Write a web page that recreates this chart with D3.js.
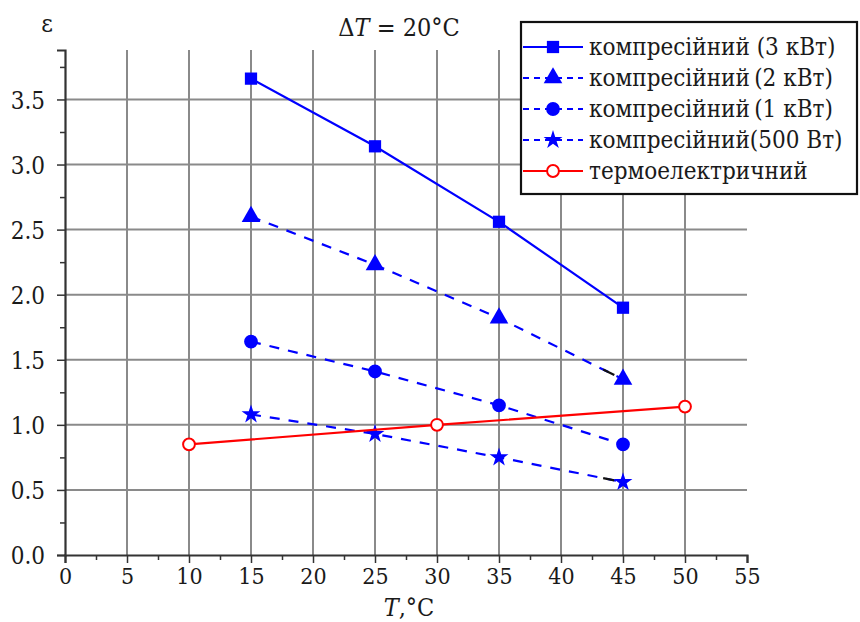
<!DOCTYPE html>
<html>
<head>
<meta charset="utf-8">
<script src="https://cdn.jsdelivr.net/npm/d3@7"></script>
<style>
  body { margin: 0; background: #fff; }
</style>
</head>
<body>
<div id="chart"></div>
<script>
// data
var temps = [15, 25, 35, 45];
var comp3kW = [3.66, 3.14, 2.56, 1.90];
var comp2kW = [2.60, 2.23, 1.82, 1.35];
var comp1kW = [1.64, 1.41, 1.15, 0.85];
var comp500W = [1.08, 0.93, 0.75, 0.56];
var thermoTemps = [10, 30, 50];
var thermo = [0.85, 1.00, 1.14];

var xTicks = [0, 5, 10, 15, 20, 25, 30, 35, 40, 45, 50, 55];
var yTicks = [0, 0.5, 1, 1.5, 2, 2.5, 3, 3.5];

var legendNames = [
    "компресійний (3 кВт)",
    "компресійний\u2009(2 кВт)",
    "компресійний\u2009(1 кВт)",
    "компресійний(500 Вт)",
    "термоелектричний"
];

// only DejaVu Serif resolves to a serif face here
var serif = '"DejaVu Serif Condensed", "DejaVu Serif", serif';
var W = 860, H = 622;
var svg = d3.select("#chart").append("svg").attr("width", W).attr("height", H)
    .attr("font-family", serif);

var x = d3.scaleLinear().domain([0, 55]).range([65, 747]);
var y = d3.scaleLinear().domain([0, 3.88]).range([555, 50]);

var grid = "#8a8a8a";

// grid lines
svg.append("g").selectAll("line")
    .data(xTicks.filter(function(d) { return d > 0 && d < 55; }))
    .enter().append("line")
    .attr("x1", function(d) { return x(d); }).attr("x2", function(d) { return x(d); })
    .attr("y1", y(0)).attr("y2", y(3.88))
    .style("stroke", grid).style("stroke-width", 2);

svg.append("g").selectAll("line")
    .data(yTicks.filter(function(d) { return d > 0; }))
    .enter().append("line")
    .attr("x1", x(0)).attr("x2", x(55))
    .attr("y1", function(d) { return y(d); }).attr("y2", function(d) { return y(d); })
    .style("stroke", grid).style("stroke-width", 2);

// axes
var xAxis = svg.append("g").attr("transform", "translate(0," + y(0) + ")")
    .call(d3.axisBottom(x).tickValues(xTicks).tickSize(8).tickPadding(5).tickFormat(d3.format("d")));
var xMinor = svg.append("g").attr("transform", "translate(0," + y(0) + ")")
    .call(d3.axisBottom(x).tickValues(d3.range(2.5, 55, 5)).tickSize(5).tickFormat(""));

var yAxis = svg.append("g").attr("transform", "translate(" + x(0) + ",0)")
    .call(d3.axisLeft(y).tickValues(yTicks).tickSize(8).tickPadding(12).tickFormat(d3.format(".1f")));
var yMinor = svg.append("g").attr("transform", "translate(" + x(0) + ",0)")
    .call(d3.axisLeft(y).tickValues(d3.range(0.25, 3.8, 0.5)).tickSize(5).tickFormat(""));

[xAxis, xMinor, yAxis, yMinor].forEach(function(a) {
    a.attr("font-family", serif).attr("font-size", 24);
    a.select(".domain").style("stroke", "#333").style("stroke-width", 2.2);
    a.selectAll(".tick line").style("stroke", "#333").style("stroke-width", 1.5);
    a.selectAll("text").style("fill", "#1a1a1a");
});
yMinor.select(".domain").remove();
xMinor.select(".domain").remove();
xAxis.selectAll(".tick text").attr("y", 13).attr("font-size", 23);
yAxis.selectAll(".tick text").attr("dy", "0.36em");

// axis titles
svg.append("text").attr("x", 47).attr("y", 32).attr("text-anchor", "middle")
    .attr("font-size", 25).style("fill", "#1a1a1a").text("ε");

var xt = svg.append("text").attr("x", 409).attr("y", 616).attr("text-anchor", "middle")
    .attr("font-size", 25).style("fill", "#1a1a1a");
xt.append("tspan").style("font-style", "italic").text("T");
xt.append("tspan").text(",°C");

var tt = svg.append("text").attr("x", 399).attr("y", 36).attr("text-anchor", "middle")
    .attr("font-size", 25).style("fill", "#1a1a1a");
tt.append("tspan").text("Δ");
tt.append("tspan").style("font-style", "italic").text("T");
tt.append("tspan").text(" = 20°C");

// series
var blue = "#0000ff", red = "#ff0000";
var series = [
    { name: legendNames[0], xs: temps, ys: comp3kW, color: blue, dash: null, sym: d3.symbolSquare, size: 150, open: false, tail: false },
    { name: legendNames[1], xs: temps, ys: comp2kW, color: blue, dash: "10,9", sym: d3.symbolTriangle, size: 150, open: false, tail: true },
    { name: legendNames[2], xs: temps, ys: comp1kW, color: blue, dash: "10,9", sym: d3.symbolCircle, size: 150, open: false, tail: false },
    { name: legendNames[3], xs: temps, ys: comp500W, color: blue, dash: "10,9", sym: d3.symbolStar, size: 110, open: false, tail: true },
    { name: legendNames[4], xs: thermoTemps, ys: thermo, color: red, dash: null, sym: d3.symbolCircle, size: 110, open: true, tail: false }
];

var line = d3.line().x(function(d) { return x(d[0]); }).y(function(d) { return y(d[1]); });

series.forEach(function(s) {
    var pts = s.xs.map(function(v, i) { return [v, s.ys[i]]; });
    svg.append("path").datum(pts).attr("d", line)
        .style("fill", "none").style("stroke", s.color).style("stroke-width", 2.2)
        .style("stroke-dasharray", s.dash);
    if (s.tail) {
        // last dash of the segment comes out black in the source
        var a = pts[pts.length - 2], b = pts[pts.length - 1];
        svg.append("line")
            .attr("x1", x(a[0] + (b[0] - a[0]) * 0.84)).attr("y1", y(a[1] + (b[1] - a[1]) * 0.84))
            .attr("x2", x(a[0] + (b[0] - a[0]) * 0.93)).attr("y2", y(a[1] + (b[1] - a[1]) * 0.93))
            .style("stroke", "#111").style("stroke-width", 2.2);
    }
    svg.append("g").selectAll("path")
        .data(pts).enter().append("path")
        .attr("d", d3.symbol().type(s.sym).size(s.size))
        .attr("transform", function(d) { return "translate(" + x(d[0]) + "," + y(d[1]) + ")"; })
        .style("fill", s.open ? "#fff" : s.color)
        .style("stroke", s.open ? s.color : "none")
        .style("stroke-width", 2);
});

// legend
var lg = svg.append("g").attr("transform", "translate(521,22)");
lg.append("rect").attr("width", 336).attr("height", 172)
    .style("fill", "#fff").style("stroke", "#111").style("stroke-width", 2.2);

series.forEach(function(s, i) {
    var ry = 25 + i * 31;
    lg.append("line").attr("x1", 2).attr("x2", 62).attr("y1", ry).attr("y2", ry)
        .style("stroke", s.color).style("stroke-width", 2)
        .style("stroke-dasharray", s.dash ? "6,5" : null);
    lg.append("path").attr("d", d3.symbol().type(s.sym).size(s.size))
        .attr("transform", "translate(32," + ry + ")")
        .style("fill", s.open ? "#fff" : s.color)
        .style("stroke", s.open ? s.color : "none")
        .style("stroke-width", 2);
    lg.append("text").attr("x", 68).attr("y", ry + 8)
        .attr("font-size", 24).style("fill", "#1a1a1a").text(s.name);
});
</script>
</body>
</html>
